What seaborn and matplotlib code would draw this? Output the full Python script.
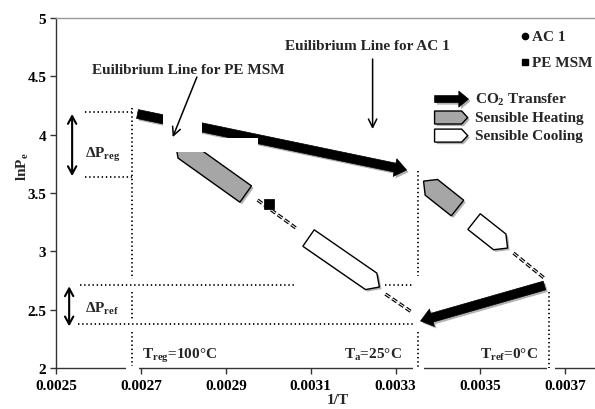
import numpy as np
import matplotlib
matplotlib.use("Agg")
import matplotlib.pyplot as plt
import seaborn as sns
from matplotlib.patches import FancyArrowPatch, Polygon, Rectangle
import matplotlib.patheffects as pe

# ---------------- data ----------------
x_ticks = [0.0025, 0.0027, 0.0029, 0.0031, 0.0033, 0.0035, 0.0037]
x_tick_labels = ["0.0025", "0.0027", "0.0029", "0.0031", "0.0033", "0.0035", "0.0037"]
y_ticks = [2, 2.5, 3, 3.5, 4, 4.5, 5]
y_tick_labels = ["2", "2.5", "3", "3.5", "4", "4.5", "5"]

# 1/T of the three temperatures
inv_T_reg = 0.00268   # 100 C
inv_T_a = 0.003354    # 25 C
inv_T_ref = 0.003661  # 0 C

# pressure levels
lnP_reg_hi, lnP_reg_lo = 4.194, 3.634
lnP_ref_hi, lnP_ref_lo = 2.712, 2.377

# equilibrium (isostere) segments
pe_iso_x = [[0.002975, 0.003067], [0.003276, 0.003338]]
pe_iso_y = [[3.440, 3.195], [2.634, 2.480]]
ac_iso_x = [[0.003578, 0.003653]]
ac_iso_y = [[2.985, 2.763]]
pe_point_x = [0.003001]
pe_point_y = [3.405]

# CO2 transfer arrows
co2_start_x = [0.002692, 0.003651]
co2_start_y = [4.177, 2.707]
co2_end_x = [0.003326, 0.003359]
co2_end_y = [3.697, 2.403]

# sensible heating / cooling steps (back centre -> point)
heat_back_x = [0.002947, 0.003446]
heat_back_y = [3.491, 3.371]
heat_tip_x = [0.002782, 0.003366]
heat_tip_y = [3.919, 3.602]
cool_back_x = [0.003095, 0.003485]
cool_back_y = [3.114, 3.255]
cool_tip_x = [0.003262, 0.003564]
cool_tip_y = [2.694, 3.028]

# ---------------- style ----------------
sns.set_theme(style="white")
plt.rcParams["font.family"] = ["Liberation Serif", "DejaVu Serif"]
plt.rcParams["font.weight"] = "bold"
plt.rcParams["mathtext.fontset"] = "custom"
plt.rcParams["mathtext.rm"] = "Liberation Serif:bold"
plt.rcParams["mathtext.it"] = "Liberation Serif:bold"
plt.rcParams["mathtext.bf"] = "Liberation Serif:bold"
plt.rcParams["lines.scale_dashes"] = False
FS = 11

fig = plt.figure(figsize=(5.95, 4.1), dpi=100)
ax = fig.add_axes([56 / 595, 41 / 410, 539 / 595, 350 / 410])
XLIM = (0.0025, 0.00377)
YLIM = (2, 5)
ax.set_xlim(*XLIM)
ax.set_ylim(*YLIM)

for s in ["left", "bottom"]:
    ax.spines[s].set_color("#333333")
    ax.spines[s].set_linewidth(1.0)
ax.spines["right"].set_visible(False)
ax.spines["top"].set_color("#9a9a9a")
ax.spines["top"].set_linewidth(1.0)

ax.set_xticks(x_ticks)
ax.set_xticklabels(x_tick_labels, fontsize=FS, fontweight="bold")
ax.set_yticks(y_ticks)
ax.set_yticklabels(y_tick_labels, fontsize=FS, fontweight="bold")
ax.tick_params(axis="both", direction="out", length=4, width=1, color="#333333",
               bottom=True, left=True, labelcolor="black")
ax.tick_params(axis="x", pad=4)
ax.tick_params(axis="y", pad=3)

dot_kw = dict(color="#111111", lw=1.35, linestyle=(0, (1, 2.0)), estimator=None,
              sort=False, ax=ax, zorder=4)


def dline(xs, ys):
    sns.lineplot(x=xs, y=ys, **dot_kw)


# vertical temperature lines
dline([inv_T_reg, inv_T_reg], [4.23, 2.763])
dline([inv_T_reg, inv_T_reg], [2.651, 2.420])
dline([inv_T_reg, inv_T_reg], [2.308, 2.017])
dline([inv_T_a, inv_T_a], [3.688, 2.788])
dline([inv_T_a, inv_T_a], [2.308, 2.0])
dline([inv_T_ref, inv_T_ref], [2.651, 2.0])
# horizontal pressure lines
dline([0.002568, inv_T_reg], [lnP_reg_hi, lnP_reg_hi])
dline([0.002568, inv_T_reg], [lnP_reg_lo, lnP_reg_lo])
dline([0.002556, 0.003062], [lnP_ref_hi, lnP_ref_hi])
dline([0.003276, 0.003344], [lnP_ref_hi, lnP_ref_hi])
dline([0.002552, 0.00334], [lnP_ref_lo, lnP_ref_lo])

# isostere lines (double dashed)
for xs, ys in list(zip(pe_iso_x, pe_iso_y)) + list(zip(ac_iso_x, ac_iso_y)):
    sns.lineplot(x=xs, y=ys, estimator=None, sort=False, ax=ax, color="black",
                 lw=2.4, linestyle=(0, (4, 2)), zorder=5)
    sns.lineplot(x=xs, y=ys, estimator=None, sort=False, ax=ax, color="white",
                 lw=0.7, linestyle=(0, (4, 2)), zorder=5.1)
sns.scatterplot(x=pe_point_x, y=pe_point_y, marker="s", s=45, color="black",
                edgecolor="black", ax=ax, zorder=6)

ax.set_xlim(*XLIM)
ax.set_ylim(*YLIM)

shadow = [pe.SimplePatchShadow(offset=(1.5, -1.5), shadow_rgbFace="black", alpha=0.3),
          pe.Normal()]


def pentagon(back, tip, width_px, point_px, **kw):
    T = ax.transData
    b = T.transform(back)
    t = T.transform(tip)
    d = t - b
    u = d / np.hypot(*d)
    n = np.array([-u[1], u[0]])
    f = t - u * point_px
    h = width_px / 2
    verts = np.array([b + n * h, f + n * h, t, f - n * h, b - n * h])
    poly = Polygon(T.inverted().transform(verts), closed=True, transform=T,
                   path_effects=shadow, **kw)
    ax.add_patch(poly)


for i in range(len(heat_back_x)):
    pentagon((heat_back_x[i], heat_back_y[i]), (heat_tip_x[i], heat_tip_y[i]), 20, 10,
             facecolor="#a6a6a6", edgecolor="black", lw=1, zorder=7)
for i in range(len(cool_back_x)):
    pentagon((cool_back_x[i], cool_back_y[i]), (cool_tip_x[i], cool_tip_y[i]), 20, 10,
             facecolor="white", edgecolor="black", lw=1, zorder=7)

for i in range(len(co2_start_x)):
    arr = FancyArrowPatch((co2_start_x[i], co2_start_y[i]), (co2_end_x[i], co2_end_y[i]),
                          arrowstyle="simple,head_length=8.5,head_width=13,tail_width=6.5",
                          mutation_scale=1, shrinkA=0, shrinkB=0, facecolor="black",
                          edgecolor="black", lw=0.5, zorder=8, path_effects=shadow)
    ax.add_patch(arr)

# white boxes that hide parts of the picture (as in the original drawing)
ax.add_patch(Rectangle((0.002752, 3.851), 0.002844 - 0.002752, 4.219 - 3.851,
                       facecolor="white", edgecolor="none", zorder=9))
ax.add_patch(Rectangle((0.002844, 3.851), 0.002975 - 0.002844, 3.971 - 3.851,
                       facecolor="white", edgecolor="none", zorder=9))
# gaps in the x-axis line
for a, b in [(0.002665, 0.002695), (0.00334, 0.003366), (0.003658, 0.003676)]:
    ax.add_patch(Rectangle((a, 1.975), b - a, 0.05, facecolor="white", edgecolor="none",
                           zorder=3, clip_on=False))

# delta P double arrows
for x0, y0, y1 in [(0.002538, 4.177, 3.645), (0.002531, 2.700, 2.357)]:
    ax.add_patch(FancyArrowPatch((x0, y0), (x0, y1),
                                 arrowstyle="<->,head_length=0.55,head_width=0.3",
                                 mutation_scale=10, shrinkA=0, shrinkB=0, color="black",
                                 lw=1.5, zorder=10))
ax.text(0.002568, 3.834, r"$\Delta$P$_{\rm reg}$", fontsize=FS, ha="left", va="center",
        zorder=11)
ax.text(0.002568, 2.515, r"$\Delta$P$_{\rm ref}$", fontsize=FS, ha="left", va="center",
        zorder=11)

# temperature labels
ax.text(0.002702, 2.086, r"T$_{\rm reg}$=100°C", fontsize=FS, ha="left", va="baseline")
ax.text(0.003314, 2.086, r"T$_{\rm a}$=25°C", fontsize=FS, ha="right", va="baseline")
ax.text(0.003498, 2.086, r"T$_{\rm ref}$=0°C", fontsize=FS, ha="left", va="baseline")

# annotations
ax.text(0.002812, 4.562, "Euilibrium Line for PE MSM", fontsize=FS, ha="center",
        va="center", zorder=11)
ax.add_patch(FancyArrowPatch((0.002832, 4.494), (0.002775, 3.979),
                             arrowstyle="->,head_length=0.6,head_width=0.3",
                             mutation_scale=10, shrinkA=0, shrinkB=0, color="black",
                             lw=1.1, zorder=11))
ax.text(0.003233, 4.762, "Euilibrium Line for AC 1", fontsize=FS, ha="center",
        va="center", zorder=11)
ax.add_patch(FancyArrowPatch((0.003246, 4.648), (0.003246, 4.048),
                             arrowstyle="->,head_length=0.6,head_width=0.3",
                             mutation_scale=10, shrinkA=0, shrinkB=0, color="black",
                             lw=1.1, zorder=11))

# marker legend
ax.plot([0.003604], [4.845], marker="o", ms=4.5, color="black", ls="none", zorder=11)
ax.plot([0.003604], [4.622], marker="s", ms=4.5, color="black", ls="none", zorder=11)
ax.text(0.003622, 4.845, "AC 1", fontsize=FS, ha="left", va="center")
ax.text(0.003622, 4.622, "PE MSM", fontsize=FS, ha="left", va="center")

# process legend
lx0, lx1, ltx = 0.003392, 0.003472, 0.003488
ax.add_patch(FancyArrowPatch((lx0, 4.305), (lx1, 4.305),
                             arrowstyle="simple,head_length=7,head_width=11.5,tail_width=5",
                             mutation_scale=1, shrinkA=0, shrinkB=0, facecolor="black",
                             edgecolor="black", lw=0.5, zorder=8, path_effects=shadow))
pentagon((lx0, 4.147), (0.003470, 4.147), 13, 6, facecolor="#a6a6a6",
         edgecolor="black", lw=1, zorder=8)
pentagon((lx0, 3.992), (0.003470, 3.992), 13, 6, facecolor="white",
         edgecolor="black", lw=1, zorder=8)
ax.text(ltx, 4.305, r"CO$_2$ Transfer", fontsize=FS, ha="left", va="center")
ax.text(ltx, 4.147, "Sensible Heating", fontsize=FS, ha="left", va="center")
ax.text(ltx, 3.992, "Sensible Cooling", fontsize=FS, ha="left", va="center")

ax.set_xlabel("1/T", fontsize=FS, fontweight="bold")
ax.set_ylabel(r"lnP$_{\rm e}$", fontsize=FS, fontweight="bold")
ax.xaxis.set_label_coords(0.523, -0.072)
ax.yaxis.set_label_coords(-0.047, 0.577)

ax.set_xlim(*XLIM)
ax.set_ylim(*YLIM)
fig.savefig("out.png", dpi=100)
